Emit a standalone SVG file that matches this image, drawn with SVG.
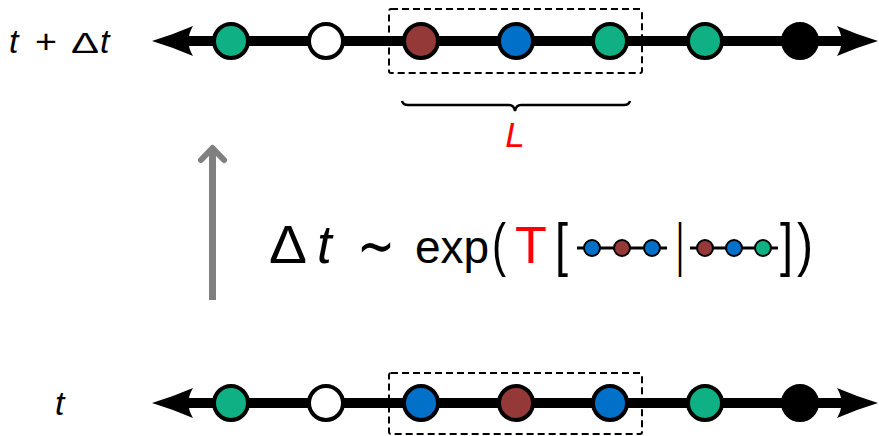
<svg xmlns="http://www.w3.org/2000/svg" width="879" height="436" viewBox="0 0 879 436">
<defs>
<style>
.axis{stroke:#000;stroke-width:10;fill:none}
.head{fill:#000;stroke:none}
.bead{stroke:#000;stroke-width:4}
.mini{stroke:#000;stroke-width:2}
.miniline{stroke:#000;stroke-width:3}
.g{fill:#0fb084}
.w{fill:#fff}
.r{fill:#943838}
.b{fill:#0070c9}
.k{fill:#000}
.box{fill:none;stroke:#000;stroke-width:2;stroke-dasharray:7 4}
.txt{font-family:"Liberation Sans",Arial,sans-serif;fill:#000}
.it{font-style:italic}
</style>
</defs>
<rect width="879" height="436" fill="#fff"/>

<g id="connectors">
  <!-- top axis -->
  <line class="axis" x1="180" y1="41" x2="852" y2="41"/>
  <path class="head" d="M152,41 Q172,35 193,26 Q184,41 193,56 Q172,47 152,41 Z"/>
  <path class="head" d="M878,41 Q858,35 837,26 Q846,41 837,56 Q858,47 878,41 Z"/>
  <!-- bottom axis -->
  <line class="axis" x1="180" y1="403" x2="852" y2="403"/>
  <path class="head" d="M152,403 Q172,397 193,388 Q184,403 193,418 Q172,409 152,403 Z"/>
  <path class="head" d="M878,403 Q858,397 837,388 Q846,403 837,418 Q858,409 878,403 Z"/>
  <!-- time arrow -->
  <line x1="212.5" y1="300" x2="212.5" y2="150" stroke="#808080" stroke-width="7"/>
  <polyline points="201,160 212.5,148 224,160" fill="none" stroke="#808080" stroke-width="6" stroke-linecap="round" stroke-linejoin="round"/>
  <!-- brace -->
  <path d="M402,101 Q403,105 408,105 L509,105 Q514,105 515,111 Q516,105 521,105 L624,105 Q629,105 630,101" fill="none" stroke="#000" stroke-width="2.5"/>
</g>

<g id="top-row">
  <circle id="t1" class="bead g" cx="231" cy="41" r="17"/>
  <circle id="t2" class="bead w" cx="326" cy="41" r="17"/>
  <circle id="t3" class="bead r" cx="421" cy="41" r="17"/>
  <circle id="t4" class="bead b" cx="516" cy="41" r="17"/>
  <circle id="t5" class="bead g" cx="610" cy="41" r="17"/>
  <circle id="t6" class="bead g" cx="705" cy="41" r="17"/>
  <circle id="t7" class="bead k" cx="800" cy="41" r="17"/>
  <rect id="top-window" class="box" x="389" y="9" width="253" height="64" rx="2"/>
</g>

<g id="bottom-row">
  <circle id="b1" class="bead g" cx="231" cy="403" r="17"/>
  <circle id="b2" class="bead w" cx="326" cy="403" r="17"/>
  <circle id="b3" class="bead b" cx="421" cy="403" r="17"/>
  <circle id="b4" class="bead r" cx="516" cy="403" r="17"/>
  <circle id="b5" class="bead b" cx="610" cy="403" r="17"/>
  <circle id="b6" class="bead g" cx="705" cy="403" r="17"/>
  <circle id="b7" class="bead k" cx="800" cy="403" r="17"/>
  <rect id="bottom-window" class="box" x="389" y="373" width="253" height="61" rx="2"/>
</g>

<g id="labels">
  <text class="txt it" x="9" y="53" font-size="34">t</text>
  <text class="txt" x="35" y="53" font-size="34" textLength="22" lengthAdjust="spacingAndGlyphs">+</text>
  <text class="txt" x="71" y="53" font-size="29" textLength="28" lengthAdjust="spacingAndGlyphs">Δ</text>
  <text class="txt it" x="100" y="53" font-size="34">t</text>
  <text class="txt it" x="55" y="415" font-size="34">t</text>
  <text class="txt it" x="515" y="147" font-size="35" style="fill:#ff0000" text-anchor="middle">L</text>
</g>

<g id="formula">
  <text class="txt" x="269" y="263" font-size="53" textLength="38" lengthAdjust="spacingAndGlyphs">Δ</text>
  <text class="txt it" x="317" y="263" font-size="53">t</text>
  <text x="376" y="266" font-size="60" text-anchor="middle" font-family="'DejaVu Sans',sans-serif" textLength="38" lengthAdjust="spacingAndGlyphs">∼</text>
  <text class="txt" x="415" y="263" font-size="46">exp</text>
  <text class="txt" x="492" y="265" font-size="60" textLength="14" lengthAdjust="spacingAndGlyphs">(</text>
  <text class="txt" x="515" y="263" font-size="52" style="fill:#ff0000">T</text>
  <text class="txt" x="555" y="265" font-size="60" textLength="13" lengthAdjust="spacingAndGlyphs">[</text>
  <g id="mini-left">
    <line class="miniline" x1="577" y1="248" x2="667" y2="248"/>
    <circle class="mini b" cx="592" cy="248" r="8"/>
    <circle class="mini r" cx="622" cy="248" r="8"/>
    <circle class="mini b" cx="652" cy="248" r="8"/>
  </g>
  <text class="txt" x="676" y="265" font-size="60" textLength="8" lengthAdjust="spacingAndGlyphs">|</text>
  <g id="mini-right">
    <line class="miniline" x1="690" y1="248" x2="778" y2="248"/>
    <circle class="mini r" cx="705" cy="248" r="8"/>
    <circle class="mini b" cx="734" cy="248" r="8"/>
    <circle class="mini g" cx="763" cy="248" r="8"/>
  </g>
  <text class="txt" x="780" y="265" font-size="60" textLength="13" lengthAdjust="spacingAndGlyphs">]</text>
  <text class="txt" x="797" y="265" font-size="60" textLength="16" lengthAdjust="spacingAndGlyphs">)</text>
</g>
</svg>
